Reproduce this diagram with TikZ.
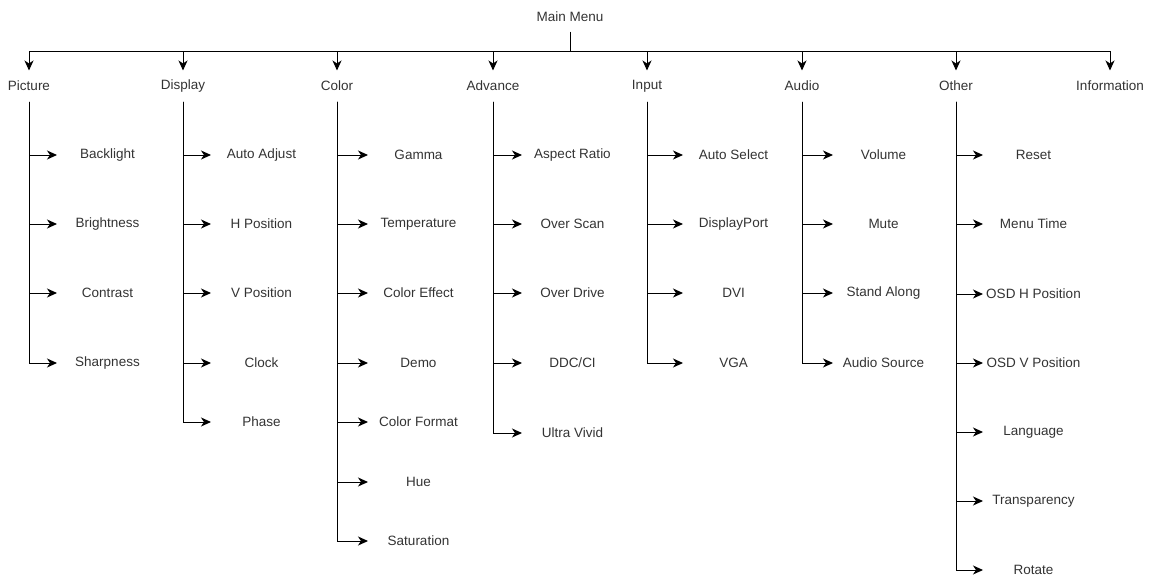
\documentclass[tikz,border=0pt]{standalone}
\usepackage{fontspec}
\setmainfont{Liberation Sans}
\usepackage{xcolor}
\usetikzlibrary{arrows.meta, positioning}
\definecolor{txt}{HTML}{333333}

\begin{document}
\begin{tikzpicture}[x=1pt, y=-1pt, >={Stealth[length=10pt, width=9pt, inset=3pt]}, line width=1pt,
    font=\fontsize{13.5}{16}\selectfont,
    cat/.style={minimum height=30pt, inner sep=0pt, text=txt},
    item/.style={anchor=west, minimum width=100pt, minimum height=20pt, inner sep=0pt, text=txt}]
    \useasboundingbox (0,0) rectangle (1152,576);

    \node[minimum height=28pt, inner sep=0pt, text=txt] (main) at (570,17) {Main Menu};
    \coordinate (bus) at (570,51);

    % menu groups
    \node[cat] (picture) at (29,86) {Picture};
    \node[cat] (display) at (183,86) {Display};
    \node[cat] (color) at (337,86) {Color};
    \node[cat] (advance) at (493,86) {Advance};
    \node[cat] (input) at (647,86) {Input};
    \node[cat] (audio) at (802,86) {Audio};
    \node[cat] (other) at (956,86) {Other};
    \node[cat] (info) at (1110,86) {Information};

    \draw[->] (main.south) -- (bus) -| (picture.north);
    \draw[->] (bus) -| (display.north);
    \draw[->] (bus) -| (color.north);
    \draw[->] (bus) -| (advance.north);
    \draw[->] (bus) -| (input.north);
    \draw[->] (bus) -| (audio.north);
    \draw[->] (bus) -| (other.north);
    \draw[->] (bus) -| (info.north);

    % Picture
    \node[item] (backlight) at (57,155) {Backlight};
    \node[item] (brightness) at (57,224) {Brightness};
    \node[item] (contrast) at (57,293) {Contrast};
    \node[item] (sharpness) at (57,363) {Sharpness};
    \draw[->] (picture.south) |- (backlight.west);
    \draw[->] (picture.south) |- (brightness.west);
    \draw[->] (picture.south) |- (contrast.west);
    \draw[->] (picture.south) |- (sharpness.west);

    % Display
    \node[item] (autoadj) at (211,155) {Auto Adjust};
    \node[item] (hpos) at (211,224) {H Position};
    \node[item] (vpos) at (211,293) {V Position};
    \node[item] (clock) at (211,363) {Clock};
    \node[item] (phase) at (211,422) {Phase};
    \draw[->] (display.south) |- (autoadj.west);
    \draw[->] (display.south) |- (hpos.west);
    \draw[->] (display.south) |- (vpos.west);
    \draw[->] (display.south) |- (clock.west);
    \draw[->] (display.south) |- (phase.west);

    % Color
    \node[item] (gamma) at (368,155) {Gamma};
    \node[item] (temp) at (368,224) {Temperature};
    \node[item] (effect) at (368,293) {Color Effect};
    \node[item] (demo) at (368,363) {Demo};
    \node[item] (format) at (368,422) {Color Format};
    \node[item] (hue) at (368,482) {Hue};
    \node[item] (sat) at (368,541) {Saturation};
    \draw[->] (color.south) |- (gamma.west);
    \draw[->] (color.south) |- (temp.west);
    \draw[->] (color.south) |- (effect.west);
    \draw[->] (color.south) |- (demo.west);
    \draw[->] (color.south) |- (format.west);
    \draw[->] (color.south) |- (hue.west);
    \draw[->] (color.south) |- (sat.west);

    % Advance
    \node[item] (aspect) at (522,155) {Aspect Ratio};
    \node[item] (overscan) at (522,224) {Over Scan};
    \node[item] (overdrive) at (522,293) {Over Drive};
    \node[item] (ddcci) at (522,363) {DDC/CI};
    \node[item] (ultra) at (522,433) {Ultra Vivid};
    \draw[->] (advance.south) |- (aspect.west);
    \draw[->] (advance.south) |- (overscan.west);
    \draw[->] (advance.south) |- (overdrive.west);
    \draw[->] (advance.south) |- (ddcci.west);
    \draw[->] (advance.south) |- (ultra.west);

    % Input
    \node[item] (autosel) at (683,155) {Auto Select};
    \node[item] (dp) at (683,224) {DisplayPort};
    \node[item] (dvi) at (683,293) {DVI};
    \node[item] (vga) at (683,363) {VGA};
    \draw[->] (input.south) |- (autosel.west);
    \draw[->] (input.south) |- (dp.west);
    \draw[->] (input.south) |- (dvi.west);
    \draw[->] (input.south) |- (vga.west);

    % Audio
    \node[item] (volume) at (833,155) {Volume};
    \node[item] (mute) at (833,224) {Mute};
    \node[item] (standalong) at (833,293) {Stand Along};
    \node[item] (source) at (833,363) {Audio Source};
    \draw[->] (audio.south) |- (volume.west);
    \draw[->] (audio.south) |- (mute.west);
    \draw[->] (audio.south) |- (standalong.west);
    \draw[->] (audio.south) |- (source.west);

    % Other
    \node[item] (reset) at (983,155) {Reset};
    \node[item] (menutime) at (983,224) {Menu Time};
    \node[item] (osdh) at (983,294) {OSD H Position};
    \node[item] (osdv) at (983,363) {OSD V Position};
    \node[item] (lang) at (983,432) {Language};
    \node[item] (transp) at (983,501) {Transparency};
    \node[item] (rotate) at (983,570) {Rotate};
    \draw[->] (other.south) |- (reset.west);
    \draw[->] (other.south) |- (menutime.west);
    \draw[->] (other.south) |- (osdh.west);
    \draw[->] (other.south) |- (osdv.west);
    \draw[->] (other.south) |- (lang.west);
    \draw[->] (other.south) |- (transp.west);
    \draw[->] (other.south) |- (rotate.west);
\end{tikzpicture}
\end{document}
